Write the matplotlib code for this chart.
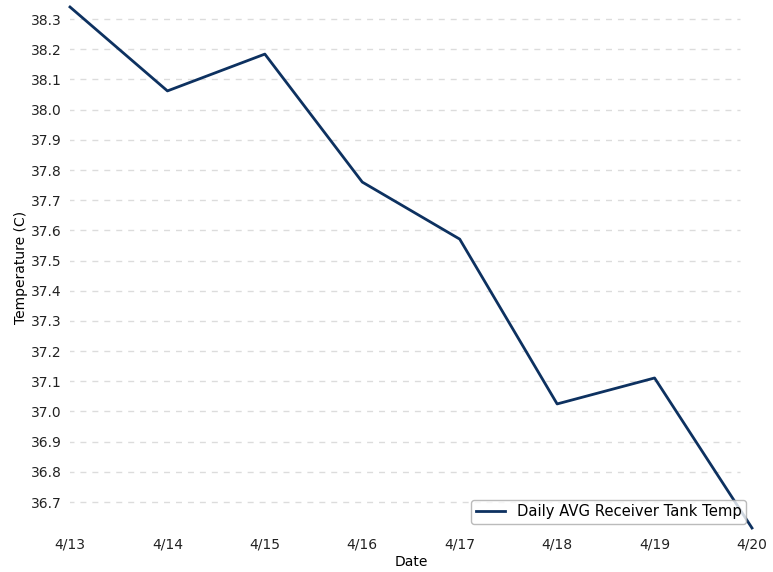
import matplotlib
matplotlib.use("Agg")
import matplotlib.pyplot as plt

# daily averages
dates = ["4/13", "4/14", "4/15", "4/16", "4/17", "4/18", "4/19", "4/20"]
temps = [38.34, 38.062, 38.184, 37.760, 37.571, 37.025, 37.111, 36.614]
yticks = [36.7, 36.8, 36.9, 37.0, 37.1, 37.2, 37.3, 37.4, 37.5,
          37.6, 37.7, 37.8, 37.9, 38.0, 38.1, 38.2, 38.3]

fig = plt.figure(figsize=(7.73, 5.72), dpi=100)
ax = fig.add_axes([70 / 773, 1 - 528 / 572, 682 / 773, 521 / 572])

x = list(range(len(dates)))
ax.plot(x, temps, color="#0d3160", lw=2, label="Daily AVG Receiver Tank Temp",
        clip_on=False, zorder=3)

ax.set_xlim(0, len(dates) - 1)
ax.set_ylim(min(temps), max(temps))
ax.set_xticks(x)
ax.set_xticklabels(dates)
ax.set_yticks(yticks)
ax.set_yticklabels([f"{v:.1f}" for v in yticks])

for s in ax.spines.values():
    s.set_visible(False)
ax.tick_params(axis="both", length=0, labelsize=10, colors="#222222")
ax.tick_params(axis="x", pad=7)
ax.tick_params(axis="y", pad=6)

# dashed grid, stops a bit short of the right edge
for v in yticks:
    ax.axhline(v, xmin=-0.003, xmax=0.982, ls=(0, (4.3, 4.3)),
               color="#dcdcdc", lw=1, zorder=1)

ax.set_xlabel("Date", fontsize=10, labelpad=2)
ax.set_ylabel("Temperature (C)", fontsize=10, labelpad=2)

leg = ax.legend(loc="lower right", prop={"size": 10.6}, frameon=True, fancybox=True,
                bbox_to_anchor=(1.002, -0.006), borderpad=0.3)
leg.get_frame().set_edgecolor("#aaaaaa")

fig.savefig("out.png", dpi=100)
